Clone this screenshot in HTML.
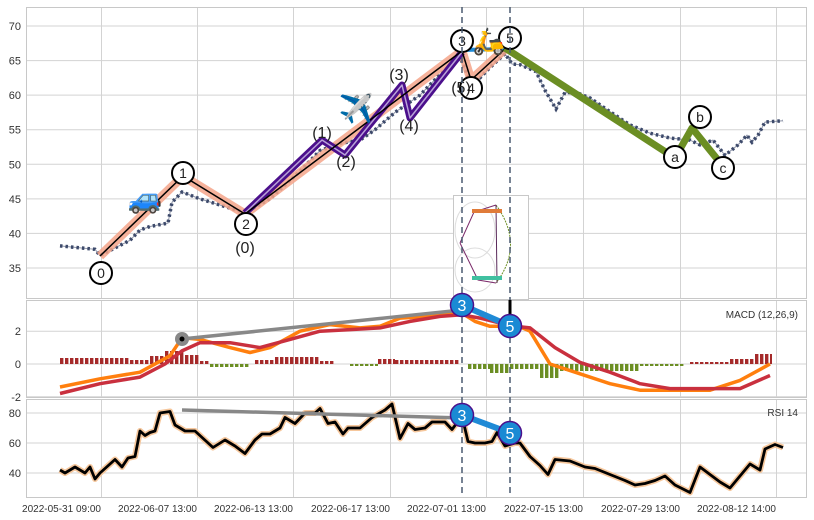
<!DOCTYPE html>
<html><head><meta charset="utf-8"><style>
html,body{margin:0;padding:0;background:#fff}
svg{display:block;font-family:"Liberation Sans",sans-serif}
</style></head><body>
<svg width="814" height="520" viewBox="0 0 814 520" xmlns="http://www.w3.org/2000/svg">
<rect width="814" height="520" fill="#fff"/>
<g stroke="#d3d3d3" stroke-width="1" fill="none">
<path d="M101.5,8V298M197.5,8V298M293.5,8V298M390.5,8V298M486.5,8V298M583.5,8V298M680.5,8V298M776.5,8V298"/>
<path d="M101.5,301V397M197.5,301V397M293.5,301V397M390.5,301V397M486.5,301V397M583.5,301V397M680.5,301V397M776.5,301V397"/>
<path d="M101.5,400V497M197.5,400V497M293.5,400V497M390.5,400V497M486.5,400V497M583.5,400V497M680.5,400V497M776.5,400V497"/>
<path d="M27,26H806M27,60.6H806M27,95.1H806M27,129.7H806M27,164.3H806M27,198.9H806M27,233.4H806M27,268H806"/>
<path d="M27,331.2H806M27,364H806M27,396.8H806"/>
<path d="M27,413H806M27,443H806M27,473H806"/>
</g>
<g fill="none" stroke="#c8c8c8" stroke-width="1">
<rect x="26.5" y="7.5" width="780" height="291"/>
<rect x="26.5" y="300.5" width="780" height="97"/>
<rect x="26.5" y="399.5" width="780" height="98"/>
</g>
<g font-size="11" fill="#333" text-anchor="end">
<text x="21" y="30">70</text><text x="21" y="64.6">65</text><text x="21" y="99.1">60</text><text x="21" y="133.7">55</text>
<text x="21" y="168.3">50</text><text x="21" y="202.9">45</text><text x="21" y="237.4">40</text><text x="21" y="272">35</text>
<text x="21" y="335.2">2</text><text x="21" y="368">0</text><text x="21" y="400.8">-2</text>
<text x="21" y="417">80</text><text x="21" y="447">60</text><text x="21" y="477">40</text>
</g>
<g font-size="10" fill="#333" text-anchor="end">
<text x="101" y="512">2022-05-31 09:00</text><text x="197" y="512">2022-06-07 13:00</text><text x="293" y="512">2022-06-13 13:00</text>
<text x="390" y="512">2022-06-17 13:00</text><text x="486" y="512">2022-07-01 13:00</text><text x="583" y="512">2022-07-15 13:00</text>
<text x="680" y="512">2022-07-29 13:00</text><text x="776" y="512">2022-08-12 14:00</text>
</g>
<!-- candles approximation -->
<polyline points="60,245.9 95,249.3 100,255.5 130,240.3 140,230 150,226.5 168,223.1 172,202.3 182,192 200,198.9 245,212.7 270,198.9 300,171.2 320,150.5 340,143.5 360,140.1 375,129.7 395,112.4 420,95.1 440,74.4 460,57.1 470,81.3 480,77.9 490,67.5 505,53.7 512,64 520,64.7 536,71.6 545,90.3 556,109 565,92.4 578,93.1 590,97.9 610,111.7 630,124.9 650,133.2 670,138 690,140.1 700,144.9 713,140.1 725,155.3 738,144.9 747,135.2 752,142.2 758,135.2 765,122.1 783,120.7" fill="none" stroke="#3d4a6b" stroke-width="1" opacity="0.6"/>
<polyline points="60,245.9 95,249.3 100,255.5 130,240.3 140,230 150,226.5 168,223.1 172,202.3 182,192 200,198.9 245,212.7 270,198.9 300,171.2 320,150.5 340,143.5 360,140.1 375,129.7 395,112.4 420,95.1 440,74.4 460,57.1 470,81.3 480,77.9 490,67.5 505,53.7 512,64 520,64.7 536,71.6 545,90.3 556,109 565,92.4 578,93.1 590,97.9 610,111.7 630,124.9 650,133.2 670,138 690,140.1 700,144.9 713,140.1 725,155.3 738,144.9 747,135.2 752,142.2 758,135.2 765,122.1 783,120.7" fill="none" stroke="#3d4a6b" stroke-width="3.5" stroke-dasharray="2.5,3"/>
<!-- main wave lines -->
<polyline points="100,256 183,176 245,214 462,51 471,80 505,49" fill="none" stroke="#f4a58a" stroke-width="9" stroke-linejoin="round" opacity="0.85"/>
<line x1="462" y1="50" x2="505" y2="49" stroke="#1f8ad6" stroke-width="4"/>
<polyline points="245,213 322,140 345,155 402,85 410,118 462,52" fill="none" stroke="#4b0f8c" stroke-width="7" stroke-linejoin="round"/>
<polyline points="245,213 322,140 345,155 402,85 410,118 462,52" fill="none" stroke="#b9a2d8" stroke-width="1.5" stroke-linejoin="round"/>
<polyline points="100,256 183,176 245,214 462,51 471,80 505,49" fill="none" stroke="#000" stroke-width="1.5"/>
<polyline points="505,48 675,158 692,128 722,165" fill="none" stroke="#6b8e23" stroke-width="7" stroke-linejoin="round"/>
<g fill="#fff" stroke="#000" stroke-width="2">
<circle cx="101" cy="273" r="11"/><circle cx="183" cy="173" r="11"/><circle cx="246" cy="224" r="11"/>
<circle cx="462" cy="41" r="11"/><circle cx="471" cy="88" r="11"/><circle cx="510" cy="38" r="11"/>
<circle cx="675" cy="157" r="11"/><circle cx="700" cy="117" r="11"/><circle cx="723" cy="168" r="11"/>
</g>
<g font-size="14" fill="#222" text-anchor="middle">
<text x="101" y="278">0</text><text x="183" y="178">1</text><text x="246" y="229">2</text>
<text x="462" y="46">3</text><text x="471" y="93">4</text><text x="510" y="43">5</text>
<text x="675" y="162">a</text><text x="700" y="122">b</text><text x="723" y="173">c</text>
</g>
<g font-size="16" fill="#222" text-anchor="middle">
<text x="245" y="253">(0)</text><text x="322" y="138">(1)</text><text x="346" y="167">(2)</text>
<text x="399" y="80">(3)</text><text x="409" y="131">(4)</text><text x="461" y="93">(5)</text>
</g>
<g font-size="28" text-anchor="middle">
<text x="145" y="208">🚙</text><text x="356" y="118">✈️</text><text x="489" y="50" font-size="26">🛵</text>
</g>
<!-- inset -->
<rect x="453.5" y="195.5" width="75" height="104" fill="#fff" stroke="#c8c8c8"/>
<g fill="none" stroke-width="1">
<ellipse cx="475" cy="230" rx="20" ry="28" stroke="#ddd"/>
<ellipse cx="475" cy="270" rx="20" ry="22" stroke="#ddd"/>
<path d="M460,243 L474,212 L496,205 M460,243 L478,280 L496,283" stroke="#7a2a6a"/>
<path d="M496,205 Q525,245 496,283" stroke="#6b8e23" stroke-dasharray="2,1"/>
<path d="M496,205 L497,283" stroke="#5a2a5a"/>
<rect x="472" y="209" width="30" height="4" fill="#e07b39" stroke="none"/>
<rect x="472" y="276" width="30" height="4" fill="#40c0a0" stroke="none"/>
</g>
<!-- MACD histogram -->
<g stroke-dasharray="3.4,1.6" fill="none">
<g stroke="#a52a2a">
<path d="M60,361H130" stroke-width="6"/><path d="M130,362H150" stroke-width="4"/><path d="M150,360H165" stroke-width="8"/>
<path d="M165,357.5H185" stroke-width="13"/><path d="M185,359.5H200" stroke-width="9"/><path d="M200,362.5H210" stroke-width="3"/>
<path d="M255,362H275" stroke-width="4"/><path d="M275,360.5H320" stroke-width="7"/><path d="M320,362.5H335" stroke-width="3"/>
<path d="M378,361.5H395" stroke-width="5"/><path d="M395,362H460" stroke-width="4"/>
<path d="M690,363H730" stroke-width="2"/><path d="M730,361.5H755" stroke-width="5"/><path d="M755,359H772" stroke-width="10"/>
</g>
<g stroke="#6b8e23">
<path d="M210,365.5H250" stroke-width="3"/><path d="M350,365H378" stroke-width="2"/>
<path d="M468,366.5H490" stroke-width="5"/><path d="M490,368.5H510" stroke-width="9"/><path d="M510,366.5H540" stroke-width="5"/>
<path d="M540,371H560" stroke-width="14"/><path d="M560,367.5H640" stroke-width="7"/><path d="M640,365H685" stroke-width="2"/>
</g>
</g>
<polyline points="60,387 100,378.8 140,372.2 170,355.8 182,337.8 200,339.4 230,347.6 250,352.5 270,347.6 300,331.2 330,324.6 360,327.9 380,326.3 400,318.1 430,316.4 455,313.2 462,313.2 475,321.4 490,326.3 505,326.3 515,324.6 530,331.2 550,364 580,373.8 610,383.7 640,390.2 680,390.2 710,390.2 740,380.4 770,364" fill="none" stroke="#ff7f0e" stroke-width="3.5" stroke-linejoin="round"/>
<polyline points="60,393.5 100,383.7 140,377.1 165,364 182,350.9 200,342.7 230,342.7 260,347.6 290,339.4 320,331.2 350,329.6 380,327.9 410,321.4 440,316.4 462,314.8 480,318.1 500,323 515,326.3 530,327.9 555,347.6 580,362.4 610,372.2 640,383.7 670,388.6 700,388.6 740,388.6 770,375.5" fill="none" stroke="#c9303e" stroke-width="3.5" stroke-linejoin="round"/>
<!-- RSI -->
<g fill="none" stroke-linejoin="round">
<polyline stroke="#f6c79c" stroke-width="6" points="60,470 65,473 75,467 85,473 90,467 95,479 100,473 115,459.5 122,467 128,458 135,456.5 140,431 145,435.5 150,432.5 155,431 160,413 170,411.5 175,425 185,431 195,431 213,447.5 225,440 235,446 245,453.5 255,440 262,434 270,434 280,428 285,417.5 295,423.5 305,413 315,413 320,408.5 328,423.5 335,422 343,434 348,428 360,428 372,417.5 385,410 392,404 400,438.5 408,423.5 415,429.5 425,428 432,422 445,422 452,429.5 462,416 468,441.5 475,443 485,443 492,441.5 497,432.5 505,446 515,443 520,443 530,456.5 540,465.5 548,474.5 555,459.5 570,461 585,467 595,468.5 610,474.5 625,480.5 635,485 645,483.5 655,480.5 665,476 675,485 690,492.5 700,467 710,474.5 720,482 730,488 740,476 750,464 760,470 765,449 775,444.5 783,447.5"/>
<polyline stroke="#000" stroke-width="2.8" points="60,470 65,473 75,467 85,473 90,467 95,479 100,473 115,459.5 122,467 128,458 135,456.5 140,431 145,435.5 150,432.5 155,431 160,413 170,411.5 175,425 185,431 195,431 213,447.5 225,440 235,446 245,453.5 255,440 262,434 270,434 280,428 285,417.5 295,423.5 305,413 315,413 320,408.5 328,423.5 335,422 343,434 348,428 360,428 372,417.5 385,410 392,404 400,438.5 408,423.5 415,429.5 425,428 432,422 445,422 452,429.5 462,416 468,441.5 475,443 485,443 492,441.5 497,432.5 505,446 515,443 520,443 530,456.5 540,465.5 548,474.5 555,459.5 570,461 585,467 595,468.5 610,474.5 625,480.5 635,485 645,483.5 655,480.5 665,476 675,485 690,492.5 700,467 710,474.5 720,482 730,488 740,476 750,464 760,470 765,449 775,444.5 783,447.5"/>
</g>
<!-- dashed vlines -->
<g stroke="#4a5a70" stroke-width="1.5" stroke-dasharray="6,4">
<line x1="462" y1="7" x2="462" y2="497"/><line x1="510" y1="7" x2="510" y2="497"/>
</g>
<!-- annotations lower -->
<line x1="182" y1="339" x2="462" y2="310" stroke="#888" stroke-width="3.5"/>
<circle cx="182" cy="339" r="7" fill="#888"/><circle cx="182" cy="339" r="2.5" fill="#000"/>
<line x1="462" y1="305" x2="510" y2="326" stroke="#1f8ad6" stroke-width="6"/>
<line x1="510" y1="300" x2="510" y2="318" stroke="#000" stroke-width="3"/>
<line x1="182" y1="410" x2="462" y2="418" stroke="#888" stroke-width="3.5"/>
<line x1="462" y1="415" x2="510" y2="433" stroke="#1f8ad6" stroke-width="6"/>
<g fill="#1a8ad4" stroke="#4b0f8c" stroke-width="1.5">
<circle cx="462" cy="305" r="11.5"/><circle cx="510" cy="326" r="11.5"/>
<circle cx="462" cy="415" r="11.5"/><circle cx="510" cy="433" r="11.5"/>
</g>
<g font-size="16" fill="#fff" text-anchor="middle">
<text x="462" y="311">3</text><text x="510" y="332">5</text>
<text x="462" y="421">3</text><text x="510" y="439">5</text>
</g>
<g font-size="10" fill="#333" text-anchor="end">
<text x="798" y="318">MACD (12,26,9)</text><text x="798" y="416">RSI 14</text>
</g>
</svg>
</body></html>
